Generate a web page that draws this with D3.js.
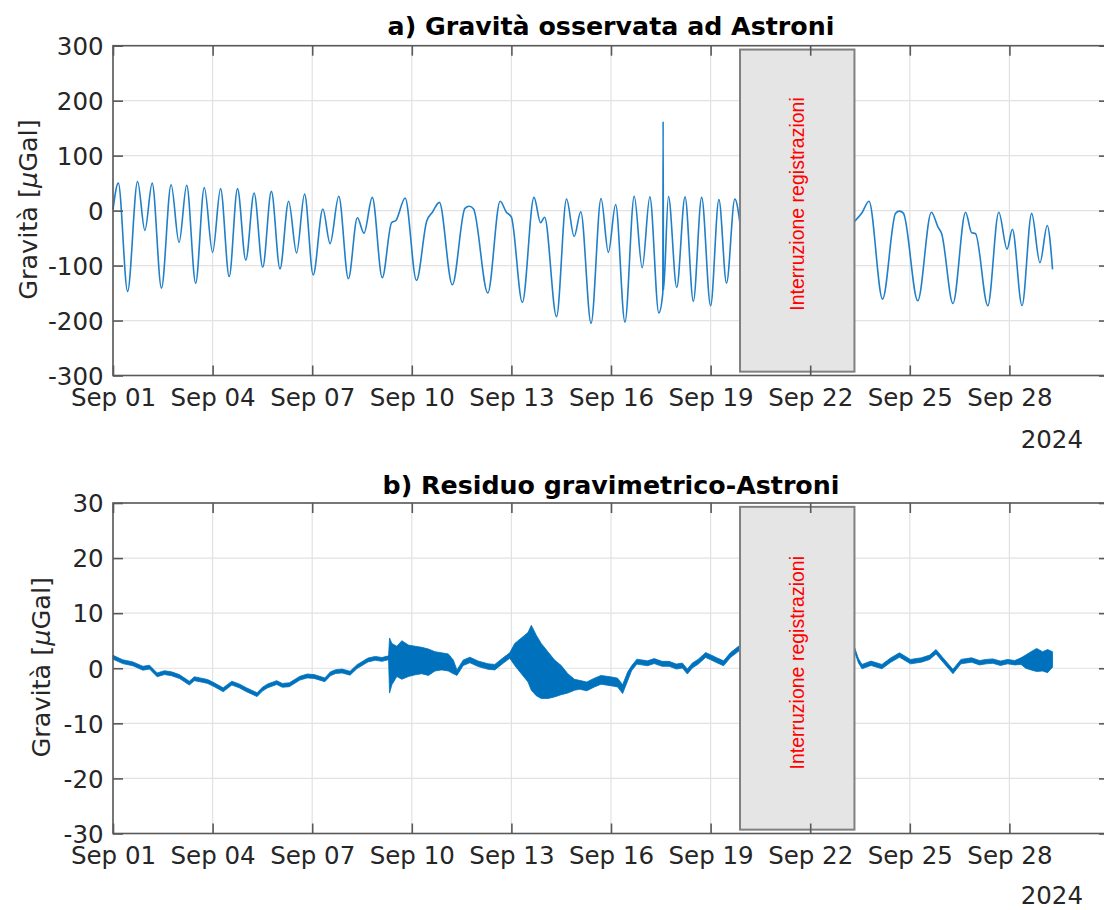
<!DOCTYPE html>
<html>
<head>
<meta charset="utf-8">
<script src="https://cdn.jsdelivr.net/npm/d3@7"></script>
<style>
  body { margin: 0; background: #fff; }
  text { font-family: "DejaVu Sans", sans-serif; fill: #262626; }
</style>
</head>
<body>
<div id="canvas"></div>
<script>
//    data (days since 2024-09-01 00:00 UTC)
var gravT = [0, 0.16, 0.44, 0.74, 0.96, 1.18, 1.46, 1.75, 1.99, 2.22, 2.49, 2.75, 3.0, 3.24, 3.5, 3.75, 4.0, 4.25, 4.51, 4.77,
  5.03, 5.29, 5.53, 5.77, 6.03, 6.32, 6.54, 6.8, 7.09, 7.36, 7.56, 7.81, 8.11, 8.39, 8.52, 8.8, 9.14, 9.45, 9.62, 9.83,
  10.22, 10.6, 10.73, 10.86, 11.29, 11.66, 11.85, 12.0, 12.33, 12.68, 12.88, 13.0, 13.36, 13.66, 13.89, 14.09, 14.4, 14.7, 14.92, 15.14,
  15.42, 15.7, 15.94, 16.17, 16.44, 16.56, 16.57, 16.58, 16.73, 16.98, 17.23, 17.48, 17.73, 18.0, 18.25, 18.48, 18.73, 18.9,
  20.5,
  22.33, 22.56, 22.77, 23.18, 23.57, 23.69, 23.81, 24.24, 24.65, 24.85, 24.96, 25.3, 25.68, 25.86, 25.98, 26.35, 26.68, 26.93, 27.09, 27.38,
  27.67, 27.92, 28.14, 28.3];
var gravV = [2, 50, -147, 53, -36, 50, -141, 47, -58, 46, -132, 42, -76, 40, -120, 40, -90, 32, -103, 35,
  -106, 17, -77, 30, -117, 3, -60, 26, -124, -13, -41, 24, -122, -22, -18, 23, -127, -19, -3, 15,
  -135, 4, 8, 3, -150, 17, -3, -12, -167, 24, -22, -12, -193, 21, -47, -2, -205, 22, -76, 11,
  -203, 26, -104, 25, -186, -150, 162, -145, 26, -140, 25, -165, 24, -173, 20, -132, 21, -30,
  null,
  -20, -4, 17, -161, -5, -1, -5, -164, -3, -30, -42, -169, -3, -40, -42, -173, -3, -70, -34, -173,
  -5, -95, -27, -107];

var resT = [0, 0.29, 0.6, 0.9, 1.1, 1.33, 1.55, 1.76, 2.0, 2.3, 2.45, 2.62, 2.85, 3.05, 3.32, 3.58, 3.8, 4.02, 4.34, 4.5,
  4.66, 4.93, 5.1, 5.31, 5.63, 5.85, 6.06, 6.38, 6.55, 6.71, 6.9, 7.14, 7.35, 7.68, 7.9, 8.1, 8.3,
  8.33, 8.4, 8.55, 8.7, 8.9, 9.1, 9.3, 9.5, 9.7, 9.9, 10.1, 10.25,
  10.36, 10.55, 10.75, 11.0, 11.3, 11.5, 11.75, 11.95,
  12.1, 12.3, 12.5, 12.6, 12.75, 12.9, 13.1, 13.3, 13.5, 13.7, 13.9,
  14.05, 14.27, 14.5, 14.7, 15.03, 15.2, 15.35, 15.5, 15.62, 15.78, 16.1, 16.3, 16.54, 16.75, 16.97, 17.15, 17.3, 17.45, 17.63, 17.85,
  18.0, 18.17, 18.39, 18.6, 18.9,
  20.5,
  22.33, 22.45, 22.56, 22.83, 23.16, 23.43, 23.69, 24.02, 24.35, 24.6, 24.79, 25.0, 25.3, 25.54, 25.86, 26.1, 26.3, 26.5, 26.73, 26.95,
  27.16, 27.35, 27.49, 27.65, 27.82, 28.0, 28.15, 28.3];
var resLo = [1.65, 0.85, 0.45, -0.35, -0.15, -1.55, -1.15, -1.35, -1.85, -3.05, -2.25, -2.45, -2.75, -3.35, -4.25, -3.05, -3.55, -4.25, -5.15, -4.15,
  -3.55, -2.95, -3.45, -3.35, -2.15, -1.75, -1.85, -2.45, -1.35, -0.95, -0.85, -1.25, -0.05, 1.15, 1.45, 1.25, 1.55,
  -4.5, -3.0, -1.5, -2.0, -1.5, -1.2, -1.0, -1.3, -0.5, -0.3, -0.5, -1.0,
  -1.3, 0.5, 1.0, 0.3, -0.2, -0.3, 0.9, 1.8,
  0.5, -1.0, -2.5, -4.0, -5.0, -5.5, -5.5, -5.2, -4.8, -4.5, -4.0,
  -3.8, -4.1, -3.4, -2.9, -3.2, -3.4, -4.6, -2.3, -0.45, 0.75, 0.45, 0.85, 0.35, 0.35, -0.15, 0.05, -1.05, 0.05, 0.75, 1.95,
  1.55, 1.05, 0.45, 1.95, 3.35,
  null,
  3.1, 1.0, -0.1, 0.5, -0.1, 1.1, 2.0, 0.8, 1.1, 1.6, 2.6, 1.1, -1.0, 0.8, 1.1, 0.6, 0.8, 0.9, 0.5, 0.8,
  0.6, 0.7, 0.0, -0.3, -0.6, -0.5, -0.8, 0.2];
var resHi = [2.35, 1.55, 1.15, 0.35, 0.55, -0.85, -0.45, -0.65, -1.15, -2.35, -1.55, -1.75, -2.05, -2.65, -3.55, -2.35, -2.85, -3.55, -4.45, -3.45,
  -2.85, -2.25, -2.75, -2.65, -1.45, -1.05, -1.15, -1.75, -0.65, -0.25, -0.15, -0.55, 0.65, 1.85, 2.15, 1.95, 2.25,
  5.5, 4.5, 4.0, 5.0, 4.2, 4.0, 3.8, 3.5, 3.0, 2.8, 2.6, 1.5,
  -0.3, 1.5, 2.0, 1.3, 0.8, 0.7, 1.9, 2.8,
  4.5, 5.5, 6.5, 7.8, 6.0, 4.5, 3.0, 1.5, 0.5, -1.0, -2.0,
  -2.2, -2.5, -1.8, -1.3, -1.6, -1.8, -3.0, -0.7, 0.45, 1.65, 1.35, 1.75, 1.25, 1.25, 0.75, 0.95, -0.15, 0.95, 1.65, 2.85,
  2.45, 1.95, 1.35, 2.85, 4.25,
  null,
  3.9, 1.8, 0.7, 1.3, 0.7, 1.9, 2.8, 1.6, 1.9, 2.4, 3.4, 1.9, -0.2, 1.6, 1.9, 1.4, 1.6, 1.7, 1.3, 1.6,
  1.4, 1.9, 2.4, 3.0, 3.6, 3.0, 3.4, 3.0];

// data gap (start, end) and y limits of the shaded box
var gapTime = ['2024-09-19T21:16:00Z', '2024-09-23T08:00:00Z'];
var gapGrav = [-293, 293];
var gapRes = [-29.3, 29.3];
var gapLabel = 'Interruzione registrazioni';

var titles = ['a) Gravità osservata ad Astroni', 'b) Residuo gravimetrico-Astroni'];
var yTicksA = [-300, -200, -100, 0, 100, 200, 300];
var yTicksB = [-30, -20, -10, 0, 10, 20, 30];

//    defination
var t0 = Date.UTC(2024, 8, 1);
function day(t) { return new Date(t0 + t * 864e5); }

var left = 113, right = 1109;
var panels = [
  {top: 45.7, bottom: 375.5, ticks: yTicksA, gap: gapGrav, labelV: 12, ylabX: 37, title: titles[0], titleY: 35, yearY: 448},
  {top: 503, bottom: 833.5, ticks: yTicksB, gap: gapRes, labelV: 1, ylabX: 50, title: titles[1], titleY: 494, yearY: 904}
];

var svg = d3.select('#canvas')
  .append('svg')
  .attr('width', 1104)
  .attr('height', 910);

var x = d3.scaleUtc()
  .domain([day(0), day(30)])
  .range([left, right]);
var xTicks = d3.utcDays(day(0), day(28), 3);   // Sep 01 .. Sep 28 (Oct 01 is off the picture)
var fmt = d3.utcFormat('%b %d');

panels.forEach(function(p, k) {
  var y = d3.scaleLinear()
    .domain([p.ticks[0], p.ticks[p.ticks.length - 1]])
    .range([p.bottom, p.top]);
  var g = svg.append('g');

  // grid
  g.selectAll('.vg').data(xTicks).enter().append('line')
    .attr('x1', d => x(d)).attr('x2', d => x(d))
    .attr('y1', p.top).attr('y2', p.bottom)
    .attr('stroke', '#e2e2e2').attr('stroke-width', 1.2);
  g.selectAll('.hg').data(p.ticks).enter().append('line')
    .attr('x1', left).attr('x2', right)
    .attr('y1', d => y(d)).attr('y2', d => y(d))
    .attr('stroke', '#e2e2e2').attr('stroke-width', 1.2);

  // series
  if (k == 0) {
    var pts = gravT.map((t, i) => ({t: t, v: gravV[i]}));
    var line = d3.line()
      .defined(d => d.v != null)
      .x(d => x(day(d.t)))
      .y(d => y(d.v))
      .curve(d3.curveMonotoneX);
    g.append('path')
      .attr('d', line(pts))
      .attr('fill', 'none')
      .attr('stroke', '#1f7fc8')
      .attr('stroke-width', 1.6);
  } else {
    var pts = resT.map((t, i) => ({t: t, lo: resLo[i], hi: resHi[i]}));
    var area = d3.area()
      .defined(d => d.lo != null)
      .x(d => x(day(d.t)))
      .y0(d => y(d.lo))
      .y1(d => y(d.hi));
    g.append('path')
      .attr('d', area(pts))
      .attr('fill', '#0072BD')
      .attr('stroke', '#0072BD')
      .attr('stroke-width', 0.8);
  }

  // gap box
  var gx0 = x(new Date(gapTime[0])), gx1 = x(new Date(gapTime[1]));
  g.append('rect')
    .attr('x', gx0).attr('y', y(p.gap[1]))
    .attr('width', gx1 - gx0).attr('height', y(p.gap[0]) - y(p.gap[1]))
    .attr('fill', '#e5e5e5')
    .attr('stroke', '#808080')
    .attr('stroke-width', 2);
  g.append('text')
    .attr('transform', 'translate(' + ((gx0 + gx1) / 2) + ',' + y(p.labelV) + ') rotate(-90)')
    .attr('text-anchor', 'middle')
    .attr('dy', '0.35em')
    .style('font-family', '"Liberation Sans", Arial, sans-serif')
    .style('font-size', '19.5px')
    .style('fill', '#ff0000')
    .text(gapLabel);

  // axes, ticks inward on all sides
  var ax = [
    [d3.axisBottom(x).tickValues(xTicks).tickFormat(fmt).tickSize(-10).tickPadding(13), 'translate(0,' + p.bottom + ')'],
    [d3.axisTop(x).tickValues(xTicks).tickFormat('').tickSize(-10), 'translate(0,' + p.top + ')'],
    [d3.axisLeft(y).tickValues(p.ticks).tickFormat(d => String(d)).tickSize(-10).tickPadding(9.4), 'translate(' + left + ',0)'],
    [d3.axisRight(y).tickValues(p.ticks).tickFormat('').tickSize(-10), 'translate(' + right + ',0)']
  ];
  ax.forEach(function(a) {
    var ag = g.append('g').attr('transform', a[1]).call(a[0].tickSizeOuter(0));
    ag.select('.domain').remove();
    ag.selectAll('line').attr('stroke', '#595959').attr('stroke-width', 1.6);
    ag.selectAll('text')
      .style('font-family', '"DejaVu Sans", sans-serif')
      .style('font-size', '24.5px')
      .attr('fill', '#262626');
  });
  g.selectAll('.tick text').filter(function() { return this.getAttribute('dy') == '0.32em'; }).attr('dy', '0.36em');

  g.append('rect')
    .attr('x', left).attr('y', p.top)
    .attr('width', right - left).attr('height', p.bottom - p.top)
    .attr('fill', 'none')
    .attr('stroke', '#595959')
    .attr('stroke-width', 1.6);

  // title
  g.append('text')
    .attr('x', (left + right) / 2)
    .attr('y', p.titleY)
    .attr('text-anchor', 'middle')
    .style('font-size', '25.3px')
    .style('font-weight', 'bold')
    .style('fill', '#000')
    .text(p.title);

  // y label
  var yl = g.append('text')
    .attr('transform', 'translate(' + p.ylabX + ',' + ((p.top + p.bottom) / 2 - 1) + ') rotate(-90)')
    .attr('text-anchor', 'middle')
    .style('font-size', '25.5px');
  yl.append('tspan').text('Gravità [');
  yl.append('tspan').style('font-style', 'italic').text('μ');
  yl.append('tspan').text('Gal]');

  // year
  g.append('text')
    .attr('x', 1083)
    .attr('y', p.yearY)
    .attr('text-anchor', 'end')
    .style('font-size', '24.5px')
    .text('2024');
});
</script>
</body>
</html>
